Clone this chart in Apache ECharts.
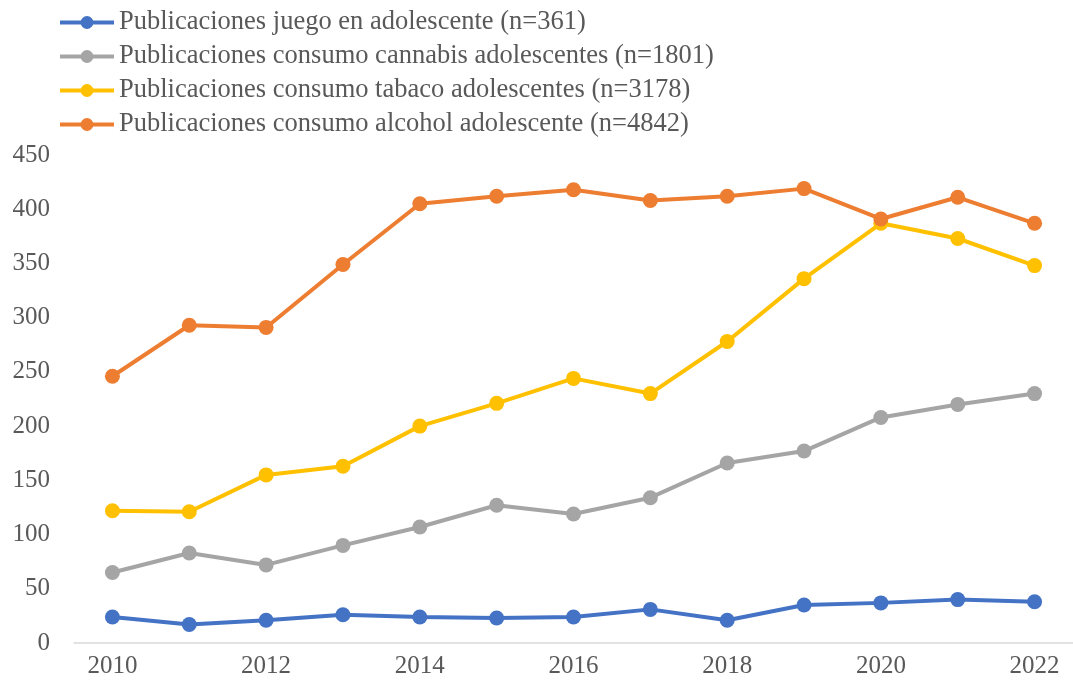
<!DOCTYPE html>
<html>
<head>
<meta charset="utf-8">
<script src="https://cdn.jsdelivr.net/npm/echarts@6/dist/echarts.min.js"></script>
<style>
  html, body { margin: 0; padding: 0; background: #fff; }
  #chart { width: 1073px; height: 688px; }
</style>
</head>
<body>
<div id="chart"></div>
<script>
// Publicaciones por año (2010–2022)
const years = ['2010','2011','2012','2013','2014','2015','2016','2017','2018','2019','2020','2021','2022'];

const juego    = [24, 17, 21, 26, 24, 23, 24, 31, 21, 35, 37, 40, 38];
const cannabis = [65, 83, 72, 90, 107, 127, 119, 134, 166, 177, 208, 220, 230];
const tabaco   = [122, 121, 155, 163, 200, 221, 244, 230, 278, 336, 387, 373, 348];
const alcohol  = [246, 293, 291, 349, 405, 412, 418, 408, 412, 419, 391, 411, 387];

const names = [
  'Publicaciones juego en adolescente (n=361)',
  'Publicaciones consumo cannabis adolescentes (n=1801)',
  'Publicaciones consumo tabaco adolescentes (n=3178)',
  'Publicaciones consumo alcohol adolescente (n=4842)'
];
const colors = ['#4472C4', '#A5A5A5', '#FFC000', '#ED7D31'];
const seriesData = [juego, cannabis, tabaco, alcohol];

const font = '"Liberation Serif", "Times New Roman", serif';

const chart = echarts.init(document.getElementById('chart'));
chart.setOption({
  backgroundColor: '#ffffff',
  animation: false,
  color: colors,
  textStyle: { fontFamily: font },
  legend: {
    orient: 'vertical',
    left: 58,
    top: 9,
    padding: 0,
    itemWidth: 54,
    itemHeight: 16,
    itemGap: 7,
    itemTextGap: 5,
    lineStyle: { width: 4 },
    textStyle: { fontFamily: font, fontSize: 26.5, color: '#595959' },
    data: names
  },
  grid: { left: 74, top: 155, width: 1001, height: 488, containLabel: false },
  xAxis: {
    type: 'category',
    data: years,
    boundaryGap: true,
    axisLine: { show: true, lineStyle: { color: '#D9D9D9', width: 1.5 } },
    axisTick: { show: false },
    axisLabel: { interval: 1, fontFamily: font, fontSize: 25, color: '#595959', margin: 11 }
  },
  yAxis: {
    type: 'value',
    min: 0,
    max: 450,
    interval: 50,
    axisLine: { show: false },
    axisTick: { show: false },
    splitLine: { show: false },
    axisLabel: { fontFamily: font, fontSize: 25, color: '#595959', margin: 24 }
  },
  series: seriesData.map((d, i) => ({
    name: names[i],
    type: 'line',
    data: d,
    symbol: 'circle',
    symbolSize: 15,
    lineStyle: { width: 4, color: colors[i] },
    itemStyle: { color: colors[i] },
    z: 2 + i
  }))
});
</script>
</body>
</html>
